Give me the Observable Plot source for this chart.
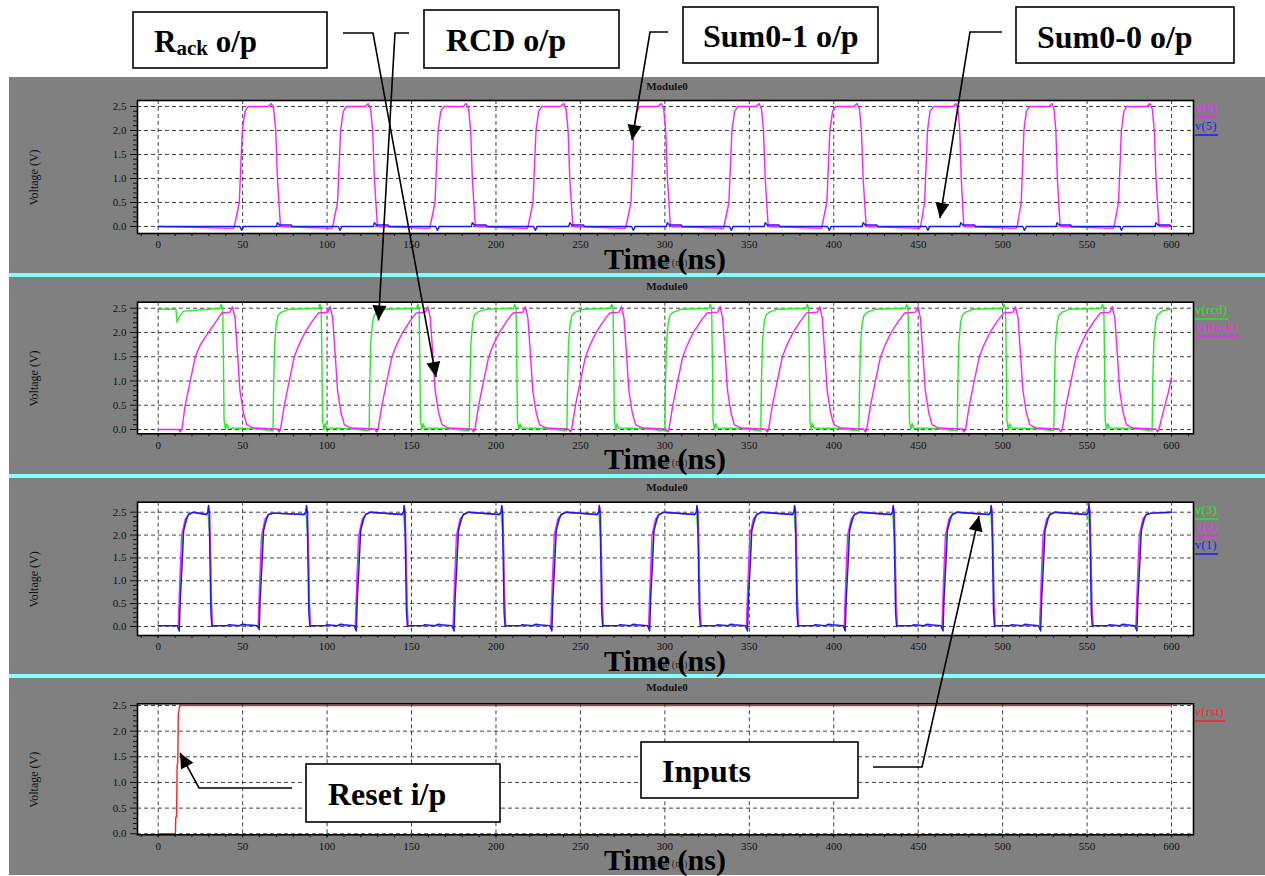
<!DOCTYPE html>
<html><head><meta charset="utf-8">
<script src="https://cdn.jsdelivr.net/npm/d3@7"></script>
<script src="https://cdn.jsdelivr.net/npm/@observablehq/plot@0.6"></script>
<style>
html,body{margin:0;padding:0;background:#fff;overflow:hidden;}
#page{position:relative;width:1265px;height:876px;overflow:hidden;font-family:"Liberation Serif","Times New Roman",serif;}
.gray{position:absolute;left:9px;top:77px;width:1256px;height:798px;background:#808080;}
.cyan{position:absolute;left:9px;width:1256px;height:4px;background:#80ffff;}
.panel{position:absolute;left:9px;}
#overlay{position:absolute;left:0;top:0;}
</style></head><body><div id="page"></div>
<script>
// ---------- data (time in ns, voltage in V), flat [t, v, t, v, ...] ----------
const xTickLabels = [0,50,100,150,200,250,300,350,400,450,500,550,600];
const yTickLabels = [0,0.5,1.0,1.5,2.0,2.5];

// Panel 1: v(8) = Sum0-1 output, v(5) = Sum0-0 output
const v8 = [0,0, 44.5,-0.04, 45.1,0, 48,0.5, 49.8,2, 51.4,2.4, 53.3,2.5, 65.1,2.5, 67,2.56, 68.4,2.45, 69.6,2, 70.6,1, 72.4,0,
102.7,-0.04, 103.3,0, 106.2,0.5, 108,2, 109.6,2.4, 111.5,2.5, 122.5,2.5, 124.4,2.56, 125.8,2.45, 127,2, 128,1, 129.8,0,
160.4,-0.04, 161,0, 163.9,0.5, 165.7,2, 167.3,2.4, 169.2,2.5, 180.5,2.5, 182.4,2.56, 183.8,2.45, 185,2, 186,1, 187.8,0,
218.4,-0.04, 219,0, 221.9,0.5, 223.7,2, 225.3,2.4, 227.2,2.5, 238.2,2.5, 240.1,2.56, 241.5,2.45, 242.7,2, 243.7,1, 245.5,0,
276.4,-0.04, 277,0, 279.9,0.5, 281.7,2, 283.3,2.4, 285.2,2.5, 296,2.5, 297.9,2.56, 299.3,2.45, 300.5,2, 301.5,1, 303.3,0,
334.4,-0.04, 335,0, 337.9,0.5, 339.7,2, 341.3,2.4, 343.2,2.5, 353.9,2.5, 355.8,2.56, 357.2,2.45, 358.4,2, 359.4,1, 361.2,0,
392.4,-0.04, 393,0, 395.9,0.5, 397.7,2, 399.3,2.4, 401.2,2.5, 411.9,2.5, 413.8,2.56, 415.2,2.45, 416.4,2, 417.4,1, 419.2,0,
450.8,-0.04, 451.4,0, 453.8,0.5, 455.5,2, 457,2.4, 459.3,2.5, 471,2.5, 472.2,2.56, 473.5,2.45, 474.6,2, 475.5,1, 477,0,
508,-0.04, 508.6,0, 511,0.5, 512.6,2, 514,2.4, 516,2.5, 527.5,2.5, 529.2,2.56, 530.4,2.45, 531.5,2, 532.4,1, 534,0,
565.4,-0.04, 566,0, 568.6,0.5, 570.3,2, 571.8,2.4, 573.5,2.5, 585.3,2.5, 587.2,2.56, 588.6,2.45, 589.8,2, 590.8,1, 592.6,0, 600,0];

const v5 = [0,0,
48.4,0, 49.4,-0.08, 50.6,0, 70,0, 70.6,0.08, 71.8,0.03, 78.8,0.03, 79.4,0,
106.6,0, 107.6,-0.08, 108.8,0, 127.4,0, 128,0.08, 129.2,0.03, 136.2,0.03, 136.8,0,
164.3,0, 165.3,-0.08, 166.5,0, 185.4,0, 186,0.08, 187.2,0.03, 194.2,0.03, 194.8,0,
222.3,0, 223.3,-0.08, 224.5,0, 243.1,0, 243.7,0.08, 244.9,0.03, 251.9,0.03, 252.5,0,
280.3,0, 281.3,-0.08, 282.5,0, 300.9,0, 301.5,0.08, 302.7,0.03, 309.7,0.03, 310.3,0,
338.3,0, 339.3,-0.08, 340.5,0, 358.8,0, 359.4,0.08, 360.6,0.03, 367.6,0.03, 368.2,0,
396.3,0, 397.3,-0.08, 398.5,0, 416.8,0, 417.4,0.08, 418.6,0.03, 425.6,0.03, 426.2,0,
454.7,0, 455.7,-0.08, 456.9,0, 474.6,0, 475.2,0.08, 476.4,0.03, 483.4,0.03, 484,0,
511.9,0, 512.9,-0.08, 514.1,0, 531.6,0, 532.2,0.08, 533.4,0.03, 540.4,0.03, 541,0,
569.3,0, 570.3,-0.08, 571.5,0, 590.2,0, 590.8,0.08, 592,0.03, 599,0.03, 600,0];

// Panel 2: v(rcd) = RCD output, v(Rack) = Rack output
const rcd = [0,2.48, 10.5,2.48, 11.2,2.21, 12,2.3, 15,2.44, 30,2.48, 36.5,2.5, 37.3,2.58, 38.2,2.5, 38.6,1.5, 39,0.2, 39.8,0, 40.6,0.12, 41.4,0.03, 55,0.02, 67,-0.02,
68,-0.02, 68.4,1, 69,1.8, 70,2.2, 71,2.35, 73,2.42, 77.8,2.48, 95,2.5, 95.7,2.58, 96.5,2.5, 96.9,1.5, 97.3,0.2, 98.1,0, 98.9,0.12, 99.7,0.03, 112,0.02, 124,-0.02,
124.9,-0.02, 125.3,1, 125.9,1.8, 126.9,2.2, 127.9,2.35, 129.9,2.42, 134.7,2.48, 153,2.5, 153.7,2.58, 154.5,2.5, 154.9,1.5, 155.3,0.2, 156.1,0, 156.9,0.12, 157.7,0.03, 170,0.02, 183.2,-0.02,
184.2,-0.02, 184.6,1, 185.2,1.8, 186.2,2.2, 187.2,2.35, 189.2,2.42, 194,2.48, 210.4,2.5, 211.1,2.58, 211.9,2.5, 212.3,1.5, 212.7,0.2, 213.5,0, 214.3,0.12, 215.1,0.03, 228,0.02, 241,-0.02,
242,-0.02, 242.4,1, 243,1.8, 244,2.2, 245,2.35, 247,2.42, 251.8,2.48, 267.8,2.5, 268.5,2.58, 269.3,2.5, 269.7,1.5, 270.1,0.2, 270.9,0, 271.7,0.12, 272.5,0.03, 286,0.02, 299,-0.02,
300,-0.02, 300.4,1, 301,1.8, 302,2.2, 303,2.35, 305,2.42, 309.8,2.48, 326.2,2.5, 326.9,2.58, 327.7,2.5, 328.1,1.5, 328.5,0.2, 329.3,0, 330.1,0.12, 330.9,0.03, 344,0.02, 355.8,-0.02,
356.8,-0.02, 357.2,1, 357.8,1.8, 358.8,2.2, 359.8,2.35, 361.8,2.42, 366.6,2.48, 383.6,2.5, 384.3,2.58, 385.1,2.5, 385.5,1.5, 385.9,0.2, 386.7,0, 387.5,0.12, 388.3,0.03, 401,0.02, 413.9,-0.02,
414.9,-0.02, 415.3,1, 415.9,1.8, 416.9,2.2, 417.9,2.35, 419.9,2.42, 424.7,2.48, 442.5,2.5, 443.2,2.58, 444,2.5, 444.4,1.5, 444.8,0.2, 445.6,0, 446.4,0.12, 447.2,0.03, 460,0.02, 472.1,-0.02,
473.1,-0.02, 473.5,1, 474.1,1.8, 475.1,2.2, 476.1,2.35, 478.1,2.42, 482.9,2.48, 500.2,2.5, 500.9,2.58, 501.7,2.5, 502.1,1.5, 502.5,0.2, 503.3,0, 504.1,0.12, 504.9,0.03, 518,0.02, 529.3,-0.02,
530.3,-0.02, 530.7,1, 531.3,1.8, 532.3,2.2, 533.3,2.35, 535.3,2.42, 540.1,2.48, 558.4,2.5, 559.1,2.58, 559.9,2.5, 560.3,1.5, 560.7,0.2, 561.5,0, 562.3,0.12, 563.1,0.03, 576,0.02, 587.5,-0.02,
588.5,-0.02, 588.9,1, 589.5,1.8, 590.5,2.2, 591.5,2.35, 594.5,2.45, 600,2.48];

const rack = [0,0, 12.2,0, 13,-0.05, 14,0, 16,0.5, 19,1, 22,1.5, 25,1.75, 29.8,2, 34.7,2.25, 37.6,2.4, 42.5,2.42, 44,2.53, 45.5,2.3, 46.9,1.6, 48.4,0.8, 50.4,0.35, 52.4,0.1, 56.3,0.03, 70.4,0.01, 71.6,-0.05,
72.4,0, 74.7,0.5, 77.6,1, 80.6,1.5, 83.4,1.75, 86.9,2, 91.6,2.25, 94.9,2.4, 100.4,2.42, 101.8,2.53, 103.3,2.3, 104.7,1.6, 106.2,0.8, 108.2,0.35, 110.2,0.1, 114.1,0.03, 128.2,0.01, 129.4,-0.05,
130.2,0, 132.5,0.5, 135.4,1, 138.4,1.5, 141.2,1.75, 144.7,2, 149.4,2.25, 152.7,2.4, 158.2,2.42, 159.6,2.53, 161.1,2.3, 162.5,1.6, 164,0.8, 166,0.35, 168,0.1, 171.9,0.03, 185.5,0.01, 186.7,-0.05,
187.5,0, 189.8,0.5, 192.7,1, 195.7,1.5, 198.5,1.75, 202,2, 206.7,2.25, 210,2.4, 216,2.42, 217.4,2.53, 218.9,2.3, 220.3,1.6, 221.8,0.8, 223.8,0.35, 225.8,0.1, 229.7,0.03, 242.8,0.01, 244,-0.05,
244.8,0, 247.1,0.5, 250,1, 253,1.5, 255.8,1.75, 259.3,2, 264,2.25, 267.3,2.4, 272.9,2.42, 274.3,2.53, 275.8,2.3, 277.2,1.6, 278.7,0.8, 280.7,0.35, 282.7,0.1, 286.6,0.03, 300.4,0.01, 301.6,-0.05,
302.4,0, 304.7,0.5, 307.6,1, 310.6,1.5, 313.4,1.75, 316.9,2, 321.6,2.25, 324.9,2.4, 331.3,2.42, 332.7,2.53, 334.2,2.3, 335.6,1.6, 337.1,0.8, 339.1,0.35, 341.1,0.1, 345,0.03, 359.4,0.01, 360.6,-0.05,
361.4,0, 363.7,0.5, 366.6,1, 369.6,1.5, 372.4,1.75, 375.9,2, 380.6,2.25, 383.9,2.4, 390.3,2.42, 391.7,2.53, 393.2,2.3, 394.6,1.6, 396.1,0.8, 398.1,0.35, 400.1,0.1, 404,0.03, 417.5,0.01, 418.7,-0.05,
419.5,0, 421.8,0.5, 424.7,1, 427.7,1.5, 430.5,1.75, 434,2, 438.7,2.25, 442,2.4, 448.4,2.42, 449.8,2.53, 451.3,2.3, 452.7,1.6, 454.2,0.8, 456.2,0.35, 458.2,0.1, 462.1,0.03, 476,0.01, 477.2,-0.05,
478,0, 480.3,0.5, 483.2,1, 486.2,1.5, 489,1.75, 492.5,2, 497.2,2.25, 500.5,2.4, 506.2,2.42, 507.6,2.53, 509.1,2.3, 510.5,1.6, 512,0.8, 514,0.35, 516,0.1, 519.9,0.03, 533.3,0.01, 534.5,-0.05,
535.3,0, 537.6,0.5, 540.5,1, 543.5,1.5, 546.3,1.75, 549.8,2, 554.5,2.25, 557.8,2.4, 563.5,2.42, 564.9,2.53, 566.4,2.3, 567.8,1.6, 569.3,0.8, 571.3,0.35, 573.3,0.1, 577.2,0.03, 590.5,0.01, 591.7,-0.05,
592.5,0, 595.3,0.4, 598,0.75, 600,1.08];

// Panel 3: inputs v(3), v(2), v(1)
const v3 = [0,0.02,
12.2,0.02, 13.5,1.3, 14.9,2.1, 18,2.45, 21,2.5, 28.4,2.45, 29.4,2.5, 30.7,1.9, 31.4,0.8, 32,0.02,
59.5,0.02, 60.8,1.3, 62.2,2.1, 65.3,2.45, 68.3,2.48, 86.4,2.45, 87.4,2.5, 88.7,1.9, 89.4,0.8, 90,0.02,
117,0.02, 118.3,1.3, 119.7,2.1, 122.8,2.45, 125.8,2.5, 144.2,2.45, 145.2,2.5, 146.5,1.9, 147.2,0.8, 147.8,0.02,
174.9,0.02, 176.2,1.3, 177.6,2.1, 180.7,2.45, 183.7,2.5, 202,2.45, 203,2.5, 204.3,1.9, 205,0.8, 205.6,0.02,
232.8,0.02, 234.1,1.3, 235.5,2.1, 238.6,2.45, 241.6,2.5, 259.8,2.45, 260.8,2.5, 262.1,1.9, 262.8,0.8, 263.4,0.02,
290.7,0.02, 292,1.3, 293.4,2.1, 296.5,2.45, 299.5,2.5, 317.6,2.45, 318.6,2.5, 319.9,1.9, 320.6,0.8, 321.2,0.02,
348.6,0.02, 349.9,1.3, 351.3,2.1, 354.4,2.45, 357.4,2.5, 375.4,2.45, 376.4,2.5, 377.7,1.9, 378.4,0.8, 379,0.02,
406.5,0.02, 407.8,1.3, 409.2,2.1, 412.3,2.45, 415.3,2.5, 433.8,2.45, 434.8,2.5, 436.1,1.9, 436.8,0.8, 437.4,0.02,
464.4,0.02, 465.7,1.3, 467.1,2.1, 470.2,2.45, 473.2,2.5, 491.8,2.45, 492.8,2.5, 494.1,1.9, 494.8,0.8, 495.4,0.02,
522.2,0.02, 523.5,1.3, 524.9,2.1, 528,2.45, 531,2.5, 549.7,2.45, 550.7,2.5, 552,1.9, 552.7,0.8, 553.3,0.02,
579.2,0.02, 580.5,1.3, 581.9,2.1, 585,2.45, 588,2.48, 600,2.5];

const v2 = [0,0.02,
11.9,0.02, 12.8,1, 13.9,2, 16,2.35, 18,2.45, 21,2.5, 28.4,2.45, 29.4,2.5, 29.9,2.62, 30.5,2.5, 31,1.6, 31.5,0.5, 32.2,0.02,
59.2,0.02, 60.1,1, 61.2,2, 63.3,2.35, 65.3,2.45, 68.3,2.48, 86.4,2.45, 87.4,2.5, 87.9,2.62, 88.5,2.5, 89,1.6, 89.5,0.5, 90.2,0.02,
116.7,0.02, 117.6,1, 118.7,2, 120.8,2.35, 122.8,2.45, 125.8,2.5, 144.2,2.45, 145.2,2.5, 145.7,2.62, 146.3,2.5, 146.8,1.6, 147.3,0.5, 148,0.02,
174.6,0.02, 175.5,1, 176.6,2, 178.7,2.35, 180.7,2.45, 183.7,2.5, 202,2.45, 203,2.5, 203.5,2.62, 204.1,2.5, 204.6,1.6, 205.1,0.5, 205.8,0.02,
232.5,0.02, 233.4,1, 234.5,2, 236.6,2.35, 238.6,2.45, 241.6,2.5, 259.8,2.45, 260.8,2.5, 261.3,2.62, 261.9,2.5, 262.4,1.6, 262.9,0.5, 263.6,0.02,
290.4,0.02, 291.3,1, 292.4,2, 294.5,2.35, 296.5,2.45, 299.5,2.5, 317.6,2.45, 318.6,2.5, 319.1,2.62, 319.7,2.5, 320.2,1.6, 320.7,0.5, 321.4,0.02,
348.3,0.02, 349.2,1, 350.3,2, 352.4,2.35, 354.4,2.45, 357.4,2.5, 375.4,2.45, 376.4,2.5, 376.9,2.62, 377.5,2.5, 378,1.6, 378.5,0.5, 379.2,0.02,
406.2,0.02, 407.1,1, 408.2,2, 410.3,2.35, 412.3,2.45, 415.3,2.5, 433.8,2.45, 434.8,2.5, 435.3,2.62, 435.9,2.5, 436.4,1.6, 436.9,0.5, 437.6,0.02,
464.1,0.02, 465,1, 466.1,2, 468.2,2.35, 470.2,2.45, 473.2,2.5, 491.8,2.45, 492.8,2.5, 493.3,2.62, 493.9,2.5, 494.4,1.6, 494.9,0.5, 495.6,0.02,
521.9,0.02, 522.8,1, 523.9,2, 526,2.35, 528,2.45, 531,2.5, 549.7,2.45, 550.7,2.5, 551.2,2.62, 551.8,2.5, 552.3,1.6, 552.8,0.5, 553.5,0.02,
578.9,0.02, 579.8,1, 580.9,2, 583,2.35, 585,2.45, 588,2.48, 600,2.5];

const v1 = [0,0.02, 11.2,0.02, 12.5,-0.1, 13.1,0.6, 14.1,1.3, 15.1,2.1, 16.7,2.35, 18,2.45, 21,2.5, 28.4,2.45, 29.4,2.5, 29.8,2.65, 30.2,2.5, 30.6,1.6, 31.2,0.3, 31.8,0, 33,0.02, 41,0.02, 42,0.04, 45,0.03, 48,0.02, 50,0.05, 52,0.04, 58.5,0.02,
59.8,-0.07, 60.4,0.6, 61.4,1.3, 62.4,2.1, 64,2.35, 65.3,2.45, 68.3,2.48, 86.4,2.45, 87.4,2.5, 87.8,2.65, 88.2,2.5, 88.6,1.6, 89.2,0.3, 89.8,0, 91,0.02, 99,0.02, 100,0.04, 103,0.03, 106,0.02, 108,0.05, 110,0.04, 116,0.02,
117.3,-0.1, 117.9,0.6, 118.9,1.3, 119.9,2.1, 121.5,2.35, 122.8,2.45, 125.8,2.5, 144.2,2.45, 145.2,2.5, 145.6,2.65, 146,2.5, 146.4,1.6, 147,0.3, 147.6,0, 148.8,0.02, 156.8,0.02, 157.8,0.04, 160.8,0.03, 163.8,0.02, 165.8,0.05, 167.8,0.04, 173.9,0.02,
175.2,-0.1, 175.8,0.6, 176.8,1.3, 177.8,2.1, 179.4,2.35, 180.7,2.45, 183.7,2.5, 202,2.45, 203,2.5, 203.4,2.65, 203.8,2.5, 204.2,1.6, 204.8,0.3, 205.4,0, 206.6,0.02, 214.6,0.02, 215.6,0.04, 218.6,0.03, 221.6,0.02, 223.6,0.05, 225.6,0.04, 231.8,0.02,
233.1,-0.1, 233.7,0.6, 234.7,1.3, 235.7,2.1, 237.3,2.35, 238.6,2.45, 241.6,2.5, 259.8,2.45, 260.8,2.5, 261.2,2.65, 261.6,2.5, 262,1.6, 262.6,0.3, 263.2,0, 264.4,0.02, 272.4,0.02, 273.4,0.04, 276.4,0.03, 279.4,0.02, 281.4,0.05, 283.4,0.04, 289.7,0.02,
291,-0.1, 291.6,0.6, 292.6,1.3, 293.6,2.1, 295.2,2.35, 296.5,2.45, 299.5,2.5, 317.6,2.45, 318.6,2.5, 319,2.65, 319.4,2.5, 319.8,1.6, 320.4,0.3, 321,0, 322.2,0.02, 330.2,0.02, 331.2,0.04, 334.2,0.03, 337.2,0.02, 339.2,0.05, 341.2,0.04, 347.6,0.02,
348.9,-0.1, 349.5,0.6, 350.5,1.3, 351.5,2.1, 353.1,2.35, 354.4,2.45, 357.4,2.5, 375.4,2.45, 376.4,2.5, 376.8,2.65, 377.2,2.5, 377.6,1.6, 378.2,0.3, 378.8,0, 380,0.02, 388,0.02, 389,0.04, 392,0.03, 395,0.02, 397,0.05, 399,0.04, 405.5,0.02,
406.8,-0.1, 407.4,0.6, 408.4,1.3, 409.4,2.1, 411,2.35, 412.3,2.45, 415.3,2.5, 433.8,2.45, 434.8,2.5, 435.2,2.65, 435.6,2.5, 436,1.6, 436.6,0.3, 437.2,0, 438.4,0.02, 446.4,0.02, 447.4,0.04, 450.4,0.03, 453.4,0.02, 455.4,0.05, 457.4,0.04, 463.4,0.02,
464.7,-0.1, 465.3,0.6, 466.3,1.3, 467.3,2.1, 468.9,2.35, 470.2,2.45, 473.2,2.5, 491.8,2.45, 492.8,2.5, 493.2,2.65, 493.6,2.5, 494,1.6, 494.6,0.3, 495.2,0, 496.4,0.02, 504.4,0.02, 505.4,0.04, 508.4,0.03, 511.4,0.02, 513.4,0.05, 515.4,0.04, 521.2,0.02,
522.5,-0.1, 523.1,0.6, 524.1,1.3, 525.1,2.1, 526.7,2.35, 528,2.45, 531,2.5, 549.7,2.45, 550.7,2.5, 551.1,2.7, 551.5,2.5, 551.9,1.6, 552.5,0.3, 553.1,0, 554.3,0.02, 562.3,0.02, 563.3,0.04, 566.3,0.03, 569.3,0.02, 571.3,0.05, 573.3,0.04, 578.2,0.02,
579.5,-0.1, 580.1,0.6, 581.1,1.3, 582.1,2.1, 583.7,2.35, 585,2.45, 588,2.48, 600,2.5];

// Panel 4: v(rst) = reset input
const rst = [0,0, 10.2,0, 10.4,0.32, 10.9,0.33, 11.2,1.33, 11.6,1.38, 11.9,2.3, 12.5,2.45, 13.1,2.5, 600,2.5];

// ---------- helpers ----------
const pts = a => { const o = []; for (let i = 0; i < a.length; i += 2) o.push({t: a[i], v: a[i + 1]}); return o; };
const MAG = "#ff1eff", BLU = "#1818ff", GRN = "#22ee22", RED = "#ff2222";

const panels = [
  {top: 77, h: 196, mt: 23, mb: 40, y: [-0.146, 2.625],
   series: [[v8, MAG], [v5, BLU]], legend: [["v(8)", MAG, 112], ["v(5)", BLU, 130]]},
  {top: 277, h: 197, mt: 24.7, mb: 40.7, y: [-0.089, 2.624],
   series: [[rcd, GRN], [rack, MAG]], legend: [["v(rcd)", GRN, 314], ["v(Rack)", MAG, 331]]},
  {top: 478, h: 196, mt: 23.7, mb: 39, y: [-0.197, 2.719],
   series: [[v3, GRN], [v2, MAG], [v1, BLU]], legend: [["v(3)", GRN, 514], ["v(2)", MAG, 531], ["v(1)", BLU, 549]]},
  {top: 678, h: 197, mt: 25.3, mb: 40.7, y: [-0.02, 2.533],
   series: [[rst, RED]], legend: [["v(rst)", RED, 716]]}
];

const page = document.getElementById("page");
const gray = document.createElement("div"); gray.className = "gray"; page.appendChild(gray);
[273, 474, 674].forEach(t => { const c = document.createElement("div"); c.className = "cyan"; c.style.top = t + "px"; page.appendChild(c); });

const xMinor = d3.range(-10, 611, 10);
const yMinor = d3.range(0, 26).map(i => i / 10).filter(d => Math.abs(d * 2 - Math.round(d * 2)) > 1e-6);

panels.forEach(p => {
  const marks = [
    Plot.frame({fill: "white"}),
    Plot.gridX(xTickLabels, {stroke: "#222", strokeOpacity: 0.85, strokeDasharray: "4,3", strokeWidth: 1}),
    Plot.gridY(yTickLabels, {stroke: "#222", strokeOpacity: 0.85, strokeDasharray: "4,3", strokeWidth: 1}),
    ...p.series.map(([d, c]) => Plot.line(pts(d), {x: "t", y: "v", stroke: c, strokeWidth: 1.4})),
    Plot.frame({stroke: "black", strokeWidth: 1.6}),
    Plot.axisX(xMinor, {tickSize: 3, tickFormat: () => "", label: null, stroke: "#111"}),
    Plot.axisX(xTickLabels, {tickSize: 3, tickPadding: 4, tickFormat: d => String(d), label: null, fill: "#111", fontSize: 11}),
    Plot.axisY(yMinor, {tickSize: 4, tickFormat: () => "", label: null, stroke: "#111"}),
    Plot.axisY(yTickLabels, {tickSize: 7, tickPadding: 4, tickFormat: d => d.toFixed(1), label: null, fill: "#111", fontSize: 11})
  ];
  const chart = Plot.plot({
    width: 1256, height: p.h,
    marginLeft: 128, marginRight: 72, marginTop: p.mt, marginBottom: p.mb,
    x: {domain: [-12.25, 613], axis: null, label: null},
    y: {domain: p.y, axis: null, label: null},
    style: {background: "transparent", fontFamily: "'Liberation Serif', serif", fontSize: "11px", color: "#111"},
    marks
  });
  chart.classList.add("panel");
  chart.style.top = p.top + "px";
  page.appendChild(chart);
});

// ---------- overlay: titles, axis titles, legends, annotations ----------
const svg = d3.create("svg").attr("id", "overlay").attr("width", 1265).attr("height", 876)
  .style("font-family", "'Liberation Serif','Times New Roman',serif");
page.appendChild(svg.node());

const plotTops = [100, 301.7, 501.7, 703.3], plotBots = [233, 433.3, 635, 834.3];
panels.forEach((p, i) => {
  svg.append("text").attr("x", 667).attr("y", p.top + 13).attr("text-anchor", "middle")
    .attr("font-size", 11).attr("font-weight", "bold").attr("fill", "#111").text("Module0");
  const cy = (plotTops[i] + plotBots[i]) / 2 + 11;
  svg.append("text").attr("transform", `translate(38,${cy}) rotate(-90)`).attr("text-anchor", "middle")
    .attr("font-size", 12).attr("fill", "#111").text("Voltage (V)");
  svg.append("text").attr("x", 668).attr("y", plotBots[i] + 33).attr("text-anchor", "middle")
    .attr("font-size", 10).attr("fill", "#222").text("Time (ns)");
  svg.append("text").attr("x", 665).attr("y", plotBots[i] + 36).attr("text-anchor", "middle")
    .attr("font-size", 30).attr("font-weight", "bold").attr("fill", "#000").text("Time (ns)");
  p.legend.forEach(([label, color, base]) => {
    const t = svg.append("text").attr("x", 1195).attr("y", base).attr("font-size", 12)
      .attr("fill", color).attr("letter-spacing", 0.5).text(label);
    const w = t.node().getComputedTextLength();
    svg.append("line").attr("x1", 1195).attr("x2", 1195 + w + 1).attr("y1", base + 5).attr("y2", base + 5)
      .attr("stroke", color).attr("stroke-width", 1.5);
  });
});

const boxes = [
  {x: 133, y: 12, w: 194, h: 56, tx: 154, ty: 52, rack: true},
  {x: 424, y: 10, w: 195, h: 58, tx: 446, ty: 51, label: "RCD o/p"},
  {x: 683, y: 7, w: 195, h: 56, tx: 703, ty: 47, label: "Sum0-1 o/p"},
  {x: 1016, y: 7, w: 218, h: 56, tx: 1037, ty: 48, label: "Sum0-0 o/p"},
  {x: 306, y: 764, w: 194, h: 58, tx: 328, ty: 805, label: "Reset i/p"},
  {x: 641, y: 742, w: 217, h: 56, tx: 662, ty: 782, label: "Inputs"}
];
const leaders = [
  [[343, 33], [373, 33], [436, 377]],
  [[409, 33], [395, 33], [378.5, 320.5]],
  [[668, 32], [650, 32], [632, 140]],
  [[1002, 32], [970, 32], [940, 218]],
  [[292, 788], [199, 788], [180, 753]],
  [[873, 767], [922, 767], [979, 516]]
];
leaders.forEach(path => {
  svg.append("path").attr("d", d3.line()(path)).attr("fill", "none").attr("stroke", "#000").attr("stroke-width", 1.6);
  const [fx, fy] = path[path.length - 2], [tx, ty] = path[path.length - 1];
  const L = Math.hypot(tx - fx, ty - fy), ux = (tx - fx) / L, uy = (ty - fy) / L;
  const bx = tx - ux * 15, by = ty - uy * 15, nx = -uy * 7, ny = ux * 7;
  svg.append("polygon").attr("points", `${tx},${ty} ${bx + nx},${by + ny} ${bx - nx},${by - ny}`).attr("fill", "#000");
});
boxes.forEach(b => {
  svg.append("rect").attr("x", b.x).attr("y", b.y).attr("width", b.w).attr("height", b.h)
    .attr("fill", "white").attr("stroke", "#000").attr("stroke-width", 1.6);
  const t = svg.append("text").attr("x", b.tx).attr("y", b.ty).attr("font-weight", "bold").attr("fill", "#000");
  if (b.rack) {
    t.attr("font-size", 31);
    t.append("tspan").text("R");
    t.append("tspan").attr("font-size", 21).attr("dy", 3).text("ack");
    t.append("tspan").attr("dy", -3).text(" o/p");
  } else {
    t.attr("font-size", 32).text(b.label);
  }
});
</script></body></html>
